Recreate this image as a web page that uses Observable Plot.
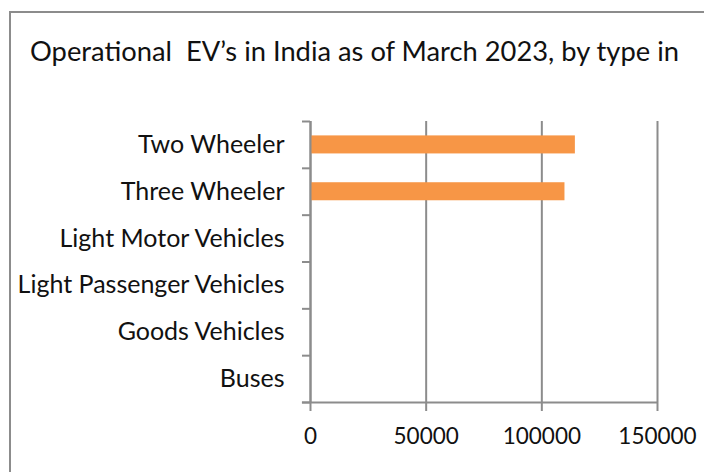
<!DOCTYPE html>
<html>
<head>
<meta charset="utf-8">
<script src="https://cdn.jsdelivr.net/npm/d3@7"></script>
<script src="https://cdn.jsdelivr.net/npm/@observablehq/plot@0.6"></script>
<style>
  html, body { margin: 0; padding: 0; background: #fff; }
  #wrap { position: relative; width: 704px; height: 472px; overflow: hidden; }
  #frame { position: absolute; left: 9px; top: 11px; width: 720px; height: 480px;
           border: 2px solid #8c8c8c; box-sizing: border-box; }
  #title { position: absolute; left: 30px; top: 35px; font-family: Lato, sans-serif;
           font-size: 27.3px; color: #111; white-space: pre; line-height: 32px; }
  #chart { position: absolute; left: 0; top: 0; }
</style>
</head>
<body>
<div id="wrap">
  <div id="frame"></div>
  <div id="title">Operational  EV’s in India as of March 2023, by type in</div>
  <div id="chart"></div>
</div>
<script>
const categories = ["Two Wheeler", "Three Wheeler", "Light Motor Vehicles", "Light Passenger Vehicles", "Goods Vehicles", "Buses"];
const values = [114500, 110000, 0, 0, 0, 0];
const xTicks = [0, 50000, 100000, 150000];

const data = categories.map((c, i) => ({category: c, index: i, value: values[i]}));
const boundaries = d3.range(categories.length + 1);
const grey = "#8c8c8c";

const plot = Plot.plot({
  width: 704,
  height: 472,
  marginLeft: 310,
  marginRight: 47,
  marginTop: 121,
  marginBottom: 70,
  style: {fontFamily: "Lato, sans-serif", fontSize: "22px", color: "#111", background: "transparent"},
  x: {domain: [0, 150000], label: null},
  y: {domain: [0, categories.length], reverse: true, label: null},
  marks: [
    Plot.gridX(xTicks, {stroke: grey, strokeOpacity: 1, strokeWidth: 2}),
    Plot.rectX(data, {x1: 0, x2: "value", y1: "index", y2: d => d.index + 1, fill: "#f79646", insetTop: 14.4, insetBottom: 14.4}),
    Plot.ruleY([categories.length], {x1: -3500, x2: 150000, stroke: grey, strokeWidth: 2}),
    Plot.ruleX([0], {y1: 0, y2: categories.length, stroke: grey, strokeWidth: 2}),
    Plot.axisX(xTicks, {tickSize: 9, tickPadding: 17, stroke: grey, strokeWidth: 2, fill: "#111", tickFormat: d => String(d), fontSize: 22.5, label: null}),
    Plot.axisY(boundaries, {tickSize: 8, tickFormat: () => "", stroke: grey, strokeWidth: 2, label: null}),
    Plot.text(data, {x: 0, y: d => d.index + 0.5, text: "category", textAnchor: "end", dx: -26, fill: "#111", fontSize: 25})
  ]
});
document.getElementById("chart").appendChild(plot);
</script>
</body>
</html>
